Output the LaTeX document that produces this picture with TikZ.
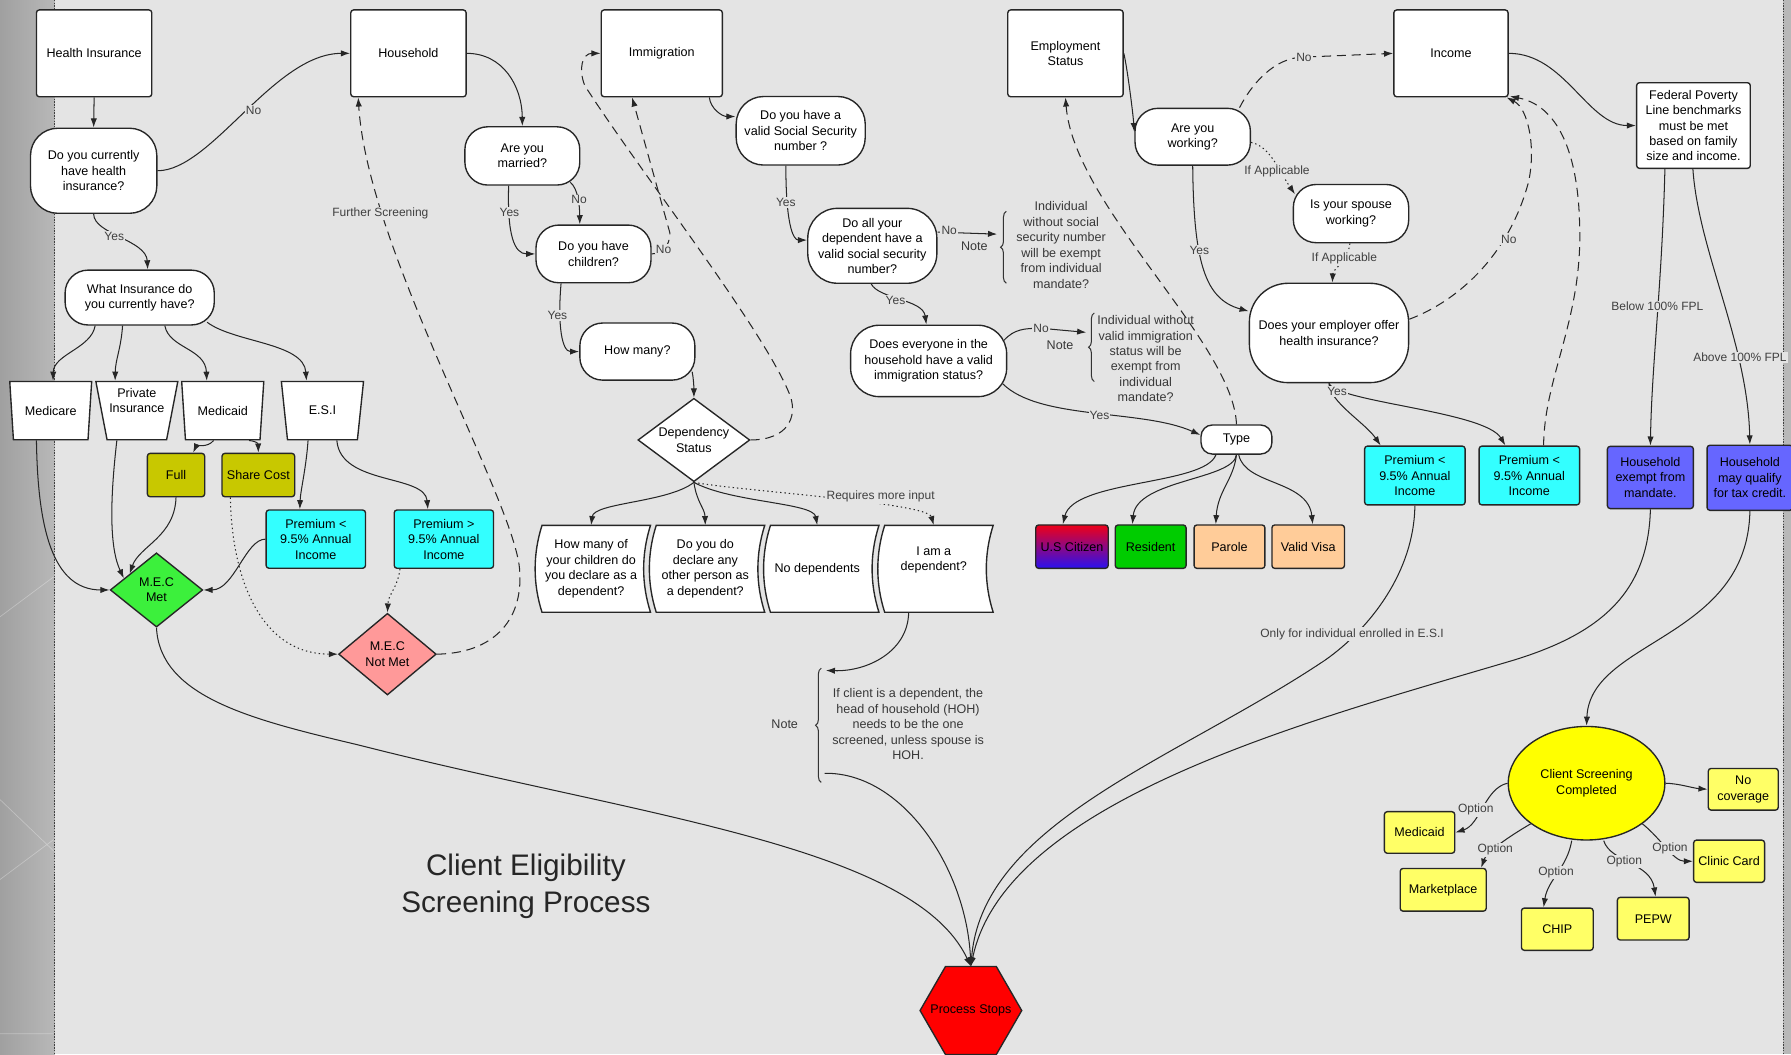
\documentclass[tikz,border=0pt]{standalone}
\usepackage{fontspec}
\setmainfont{Liberation Sans}
\usetikzlibrary{shapes.geometric,arrows.meta,decorations.pathreplacing}
\definecolor{bg}{HTML}{E4E4E4}
\definecolor{stripA}{HTML}{A0A0A0}
\definecolor{stripB}{HTML}{B8B8B8}
\definecolor{olive}{HTML}{C8C800}
\definecolor{cyanbox}{HTML}{33FFFF}
\definecolor{mecgreen}{HTML}{3CF03C}
\definecolor{mecpink}{HTML}{FF9999}
\definecolor{resgreen}{HTML}{00CC00}
\definecolor{peach}{HTML}{FFCC99}
\definecolor{purplebox}{HTML}{6666FF}
\definecolor{yelA}{HTML}{FFFF00}
\definecolor{yelB}{HTML}{FFFF66}
\definecolor{usTop}{HTML}{EE0018}
\definecolor{usBot}{HTML}{2A10F0}
\begin{document}
\begin{tikzpicture}[x=1pt,y=-1pt,
  every node/.style={font=\fontsize{11}{13.5}\selectfont, align=center, text=black},
  bx/.style={draw=black!85, line width=1.2pt, fill=white, inner sep=1pt},
  sq/.style={bx, rounded corners=2.5pt},
  pill/.style={bx, rounded corners=#1},
  wh/.style 2 args={minimum width=#1pt, minimum height=#2pt},
  trap/.style={bx, trapezium, trapezium left angle=103, trapezium right angle=103,
    trapezium stretches=true, minimum width=72pt, minimum height=51pt},
  dia/.style={bx, diamond, aspect=1.3, inner sep=0pt},
  arr/.style={line width=0.9pt, draw=black!85, -{Latex[length=8pt,width=5.5pt]}},
  dasharr/.style={arr, dash pattern=on 8pt off 5pt},
  dotarr/.style={arr, dash pattern=on 1.2pt off 2.6pt},
  lbl/.style={fill=bg, inner sep=1pt, text=black!75, font=\fontsize{10.5}{12}\selectfont},
  notetxt/.style={text=black!78},
  brc/.style={line width=0.9pt, draw=black!80, decorate, decoration={brace, amplitude=5pt}}
]
\useasboundingbox (0,0) rectangle (1568,923);
% background
\fill[bg] (0,0) rectangle (1568,923);
\shade[left color=stripA, right color=stripB] (0,0) rectangle (48,923);
\draw[white, opacity=0.3, line width=0.6pt] (0,540) -- (47,505) (0,700) -- (47,745) (0,770) -- (47,735) (0,905) -- (47,905);
\draw[black!75, line width=0.7pt, dash pattern=on 1.2pt off 1.2pt] (48,0) -- (48,923);
\fill[stripB] (1561,0) rectangle (1568,923);
\draw[black!75, line width=0.7pt, dash pattern=on 1.2pt off 1.2pt] (1561,0) -- (1561,923);

% ---------- top category boxes
\node[sq, wh={101}{76}] (HI) at (82.4,46.7) {Health Insurance};
\node[sq, wh={101}{76}] (HH) at (357.6,46.7) {Household};
\node[sq, wh={106}{76}] (IM) at (579.4,46.7) {Immigration};
\node[sq, wh={101}{76}] (ES) at (932.8,46.7) {Employment\\Status};
\node[sq, wh={100}{76}] (IN) at (1270.3,46.7) {Income};

% ---------- health insurance branch
\node[pill=24pt, wh={110.6}{74.5}] (Q1) at (82,149.5) {Do you currently\\have health\\insurance?};
\node[pill=20pt, wh={130.6}{48}] (Q2) at (122.3,260.5) {What Insurance do\\you currently have?};
\node[trap] (MC) at (44.4,359.5) {Medicare};
\node[trap] (PI) at (119.8,359.5) {Private\\Insurance\\\strut};
\node[trap] (MD) at (195,359.5) {Medicaid};
\node[trap] (ESI) at (282.3,359.5) {E.S.I};
\node[sq, fill=olive, wh={50.2}{38}] (Full) at (154.1,415.9) {Full};
\node[sq, fill=olive, wh={63.6}{38}] (SC) at (226.2,415.9) {Share Cost};
\node[sq, fill=cyanbox, wh={87}{51}] (P1) at (276.5,472) {Premium <\\9.5\% Annual\\Income};
\node[sq, fill=cyanbox, wh={87}{51}] (P2) at (388.6,472) {Premium >\\9.5\% Annual\\Income};
\node[dia, fill=mecgreen, wh={81}{65}] (MECM) at (137,516.5) {M.E.C\\Met};
\node[dia, fill=mecpink, wh={85.5}{71.5}] (MECN) at (339.2,572.7) {M.E.C\\Not Met};

% ---------- household branch
\node[pill=20pt, wh={100.6}{51}] (M) at (457.3,136.5) {Are you\\married?};
\node[pill=20pt, wh={100.7}{50.5}] (CH) at (519.6,222.3) {Do you have\\children?};
\node[pill=20pt, wh={100.7}{50}] (HM) at (558,307.8) {How many?};
\node[dia, wh={98}{73}] (DS) at (607.5,385.2) {Dependency\\Status};
\foreach \L in {474.5,574.5,674.5,774.5} {
  \draw[bx] (\L,460) -- (\L+95,460) .. controls (\L+87,485) and (\L+87,511) .. (\L+95,536)
    -- (\L,536) .. controls (\L-8,511) and (\L-8,485) .. cycle;
}
\node[wh={95}{76}] (T1) at (517.5,498) {How many of\\your children do\\you declare as a\\dependent?};
\node[wh={95}{76}] (T2) at (617.5,498) {Do you do\\declare any\\other person as\\a dependent?};
\node[wh={95}{76}] (T3) at (715.5,498) {No dependents};
\node[wh={95}{76}] (T4) at (817.5,498) {I am a\\dependent?\\\strut};

% ---------- immigration branch
\node[pill=24pt, wh={113}{60}] (SSN) at (701,114.5) {Do you have a\\valid Social Security\\number ?};
\node[pill=26pt, wh={113}{65.6}] (DAY) at (763.7,215.2) {Do all your\\dependent have a\\valid social security\\number?};
\node[pill=25pt, wh={136.6}{62.5}] (EV) at (813,316) {Does everyone in the\\household have a valid\\immigration status?};
\node[pill=10pt, wh={62}{25.5}] (TY) at (1082.5,384.8) {Type};
\node[sq, top color=usTop, bottom color=usBot, wh={63.4}{38}] (US) at (938.5,478.6) {U.S Citizen};
\node[sq, fill=resgreen, wh={62}{38}] (RE) at (1007.4,478.6) {Resident};
\node[sq, fill=peach, wh={62}{38}] (PA) at (1076.4,478.6) {Parole};
\node[sq, fill=peach, wh={63.5}{38}] (VV) at (1145.3,478.6) {Valid Visa};

% ---------- employment / income branch
\node[pill=20pt, wh={101}{49.7}] (AW) at (1044.2,119.7) {Are you\\working?};
\node[pill=20pt, wh={101}{51}] (SP) at (1182.8,187) {Is your spouse\\working?};
\node[pill=34pt, wh={139.4}{87}] (EO) at (1163.5,291.5) {Does your employer offer\\health insurance?};
\node[sq, fill=cyanbox, wh={88}{51.5}] (P3) at (1238.7,416.3) {Premium <\\9.5\% Annual\\Income};
\node[sq, fill=cyanbox, wh={88}{51.5}] (P4) at (1338.9,416.3) {Premium <\\9.5\% Annual\\Income};
\node[sq, wh={99.5}{75}] (FPL) at (1482.6,109.9) {Federal Poverty\\Line benchmarks\\must be met\\based on family\\size and income.};
\node[sq, fill=purplebox, wh={75.3}{54.5}] (HE) at (1444.9,418) {Household\\exempt from\\mandate.};
\node[sq, fill=purplebox, wh={75}{57}] (HT) at (1532,418.3) {Household\\may qualify\\for tax credit.};

% ---------- outcomes
\node[bx, ellipse, fill=yelA, wh={137.2}{99.4}] (CS) at (1389,685.7) {Client Screening\\Completed};
\node[sq, fill=yelB, wh={61.3}{36.5}] (NC) at (1526.2,691) {No\\coverage};
\node[sq, fill=yelB, wh={61.6}{36.4}] (MDc) at (1242.8,728.8) {Medicaid};
\node[sq, fill=yelB, wh={75.3}{37.4}] (MK) at (1263.5,779) {Marketplace};
\node[sq, fill=yelB, wh={62.8}{37}] (CHIP) at (1363.4,813.5) {CHIP};
\node[sq, fill=yelB, wh={62.8}{37.4}] (PEPW) at (1447.4,804.3) {PEPW};
\node[sq, fill=yelB, wh={62.1}{37}] (CC) at (1513.8,754) {Clinic Card};
\node[bx, regular polygon, regular polygon sides=6, minimum size=89pt, inner sep=0pt, outer sep=0pt, fill=red] (PS) at (850,884.7) {\makebox[0pt]{Process Stops}};

% ---------- notes
\draw[brc] (881,248) -- (881,185);
\draw[brc] (958,334) -- (958,274);
\draw[brc] (719,685) -- (719,585);
\coordinate (b1) at (873,205);
\coordinate (b2) at (951,291);
\coordinate (b3) at (723,587);
\coordinate (b3o) at (722,677);
\node[notetxt] (NT1) at (929,214.5) {Individual\\without social\\security number\\will be exempt\\from individual\\mandate?};
\node[notetxt] (NT2) at (1003,314) {Individual without\\valid immigration\\status will be\\exempt from\\individual\\mandate?};
\node[notetxt] (NT3) at (795,634) {If client is a dependent, the\\head of household (HOH)\\needs to be the one\\screened, unless spouse is\\HOH.};
\node[notetxt] (N1) at (853,216) {Note};
\node[notetxt] (N2) at (928,302) {Note};
\node[notetxt] (N3) at (687,634) {Note};

\node[font=\fontsize{26}{32.4}\selectfont, text=black!85] (title) at (460.4,776) {Client Eligibility\\Screening Process};

% ---------- connectors: health insurance
\draw[arr] (HI.south) -- (Q1.north);
\draw[arr] (Q1.east) .. controls (185,149.5) and (240,46.7) .. (HH.west);
\draw[arr] (Q1.south) .. controls (82,205) and (128,210) .. ([xshift=7pt]Q2.north);
\draw[arr] ([xshift=-39pt]Q2.south) .. controls (80,305) and (47,310) .. ([xshift=2pt]MC.north);
\draw[arr] ([xshift=-15pt]Q2.south) .. controls (106,305) and (101,315) .. ([xshift=-19pt]PI.north);
\draw[arr] ([xshift=22pt]Q2.south) .. controls (148,305) and (180,305) .. ([xshift=-14pt]MD.north);
\draw[arr] ([xshift=59pt,yshift=3pt]Q2.south) .. controls (205,300) and (266,300) .. ([xshift=-14pt]ESI.north);
\draw[arr] ([xshift=-12.5pt]MC.south) .. controls (33,460) and (45,516.5) .. (MECM.west);
\draw[arr] ([xshift=-17.5pt]PI.south) .. controls (96,440) and (96,480) .. ([xshift=-8pt,yshift=-6.4pt]MECM.north west);
\draw[arr] (Full.south) .. controls (153,470) and (122,478) .. ([xshift=-3pt,yshift=-2.4pt]MECM.north west);
\draw[arr] ([xshift=-8pt]MD.south) .. controls (182,392) and (172,390) .. ([xshift=15pt]Full.north);
\draw[arr] ([xshift=23pt]MD.south) .. controls (223,386) and (226,388) .. (SC.north);
\draw[dotarr] ([xshift=-24.5pt]SC.south) .. controls (203,510) and (230,572.7) .. (MECN.west);
\draw[arr] ([xshift=-12.6pt]ESI.south) .. controls (268,410) and (263,430) .. ([xshift=-14pt]P1.north);
\draw[arr] ([xshift=12.6pt]ESI.south) .. controls (298,425) and (372,415) .. ([xshift=-14pt]P2.north);
\draw[arr] (P1.west) .. controls (215,472) and (205,516.5) .. (MECM.east);
\draw[dotarr] ([xshift=-38.4pt]P2.south) .. controls (348,515) and (340,520) .. (MECN.north);
\draw[dasharr] (MECN.east) .. controls (430,572) and (458,545) .. (455,500) .. controls (452,440) and (322,220) .. ([xshift=-44pt]HH.south);
\draw[arr] (MECM.south) .. controls (140,610) and (220,630) .. (313,652) .. controls (560,715) and (800,740) .. (PS.north);

% ---------- connectors: household
\draw[arr] (HH.east) .. controls (440,46.7) and (457,75) .. (M.north);
\draw[arr] ([xshift=-12pt]M.south) .. controls (444,205) and (450,222.3) .. (CH.west);
\draw[arr] ([xshift=42pt,yshift=3pt]M.south) .. controls (506,165) and (507.5,180) .. ([xshift=-12pt]CH.north);
\draw[arr] ([xshift=-28.4pt]CH.south) .. controls (488,285) and (492,307.8) .. (HM.west);
\draw[dasharr] (CH.east) .. controls (579,222) and (586.5,216) .. (586.5,204) -- ([xshift=-26pt]IM.south);
\draw[arr] ([xshift=-3pt,yshift=8pt]HM.south east) .. controls (607,330) and (607.5,338) .. (DS.north);
\draw[dasharr] (DS.east) .. controls (690,385) and (698,365) .. (692,347) .. controls (670,290) and (560,150) .. (512,75) .. controls (506,60) and (510,46.7) .. (IM.west);
\draw[arr] (DS.south) .. controls (585,440) and (520,440) .. (T1.north);
\draw[arr] (DS.south) .. controls (610,440) and (617,445) .. (T2.north);
\draw[arr] (DS.south) .. controls (640,440) and (712,440) .. (T3.north);
\draw[dotarr] (DS.south) .. controls (650,430) and (812,440) .. (T4.north);
\draw[arr] ([xshift=-22pt]T4.south) .. controls (795,570) and (760,588) .. (b3);
\draw[arr] (b3o) .. controls (790,676) and (846,760) .. (PS.north);

% ---------- connectors: immigration
\draw[arr] ([xshift=-12pt]IM.south east) .. controls (622,95) and (632,102) .. ([yshift=12.5pt]SSN.west);
\draw[arr] ([xshift=-13pt]SSN.south) .. controls (688,195) and (694,210.2) .. ([yshift=5pt]DAY.west);
\draw[arr] ([xshift=-1pt]DAY.south) .. controls (770,262) and (808,262) .. ([xshift=-2pt]EV.north);
\draw[arr] ([yshift=12pt]DAY.east) -- (b1);
\draw[arr] ([xshift=-3pt,yshift=18pt]EV.east) .. controls (888,288) and (897,287.4) .. (911.5,287.4) -- (b2);
\draw[arr] ([xshift=-4pt,yshift=-20pt]EV.east) .. controls (910,368) and (1000,358) .. ([yshift=4pt]TY.west);
\draw[dasharr] (TY.north) .. controls (1080,300) and (940,180) .. (ES.south);
\draw[arr] ([xshift=-18pt]TY.south) .. controls (1055,425) and (940,420) .. ([xshift=-8pt]US.north);
\draw[arr] (TY.south) .. controls (1080,420) and (995,420) .. ([xshift=-16pt]RE.north);
\draw[arr] (TY.south) .. controls (1080,420) and (1066,430) .. ([xshift=-12pt]PA.north);
\draw[arr] ([xshift=2pt]TY.south) .. controls (1090,425) and (1145,420) .. ([xshift=4pt]VV.north);

% ---------- connectors: employment / income
\draw[arr] (ES.east) .. controls (987,60) and (992,100) .. ([yshift=4pt]AW.west);
\draw[dasharr] ([xshift=41pt]AW.north) .. controls (1095,75) and (1115,50) .. (1141.6,50) -- (IN.west);
\draw[dotarr] ([yshift=-5pt]AW.east) .. controls (1112,128) and (1120,150) .. ([xshift=2pt,yshift=17pt]SP.west);
\draw[dotarr] ([xshift=-1pt]SP.south) .. controls (1180,230) and (1167,235) .. ([xshift=3pt]EO.north);
\draw[arr] (AW.south) .. controls (1045,230) and (1055,262) .. ([yshift=19pt]EO.west);
\draw[dasharr] ([yshift=12pt]EO.east) .. controls (1280,262) and (1322,220) .. (1338,160) .. controls (1345,130) and (1338,95) .. ([xshift=-2pt]IN.south east);
\draw[dasharr] ([xshift=12.5pt]P4.north) .. controls (1352,330) and (1385,280) .. (1383,200) .. controls (1382,130) and (1362,92) .. ([xshift=1pt,yshift=1pt]IN.south east);
\draw[arr] (EO.south) .. controls (1164,352) and (1195,370) .. ([xshift=-30pt]P3.north);
\draw[arr] (EO.south) .. controls (1170,352) and (1300,360) .. ([xshift=-21pt]P4.north);
\draw[arr] (IN.east) .. controls (1370,46.7) and (1390,109.9) .. (FPL.west);
\draw[arr] ([xshift=-25pt]FPL.south) .. controls (1455,250) and (1446,320) .. (HE.north);
\draw[arr] ([xshift=-0.5pt]FPL.south) .. controls (1487,220) and (1530,300) .. (HT.north);
\draw[arr] (P3.south) .. controls (1238,500) and (1200,550) .. (1160,578) .. controls (1030,665) and (860,720) .. (PS.north);
\draw[arr] (HE.south) .. controls (1443,520) and (1400,555) .. (1325,578) .. controls (1150,630) and (880,700) .. (PS.north);
\draw[arr] (HT.south) .. controls (1530,560) and (1392,560) .. (CS.north);

% ---------- outcome options
\draw[arr] (CS.west) .. controls (1300,690) and (1296,722) .. (MDc.east);
\draw[arr] (CS.south west) .. controls (1325,730) and (1302,745) .. ([xshift=-5pt]MK.north east);
\draw[arr] ([xshift=-13pt]CS.south) .. controls (1372,760) and (1355,770) .. ([xshift=-12pt]CHIP.north);
\draw[arr] ([xshift=15pt]CS.south) .. controls (1410,755) and (1445,755) .. ([xshift=2pt]PEPW.north);
\draw[arr] (CS.south east) .. controls (1455,735) and (1465,754) .. (CC.west);
\draw[arr] (CS.east) .. controls (1470,686) and (1482,690) .. (NC.west);

% ---------- connector labels
\node[lbl] (lA) at (222,97) {No};
\node[lbl] (lB) at (100,207) {Yes};
\node[lbl] (lC) at (333,187) {Further Screening};
\node[lbl] (lD) at (446,186) {Yes};
\node[lbl] (lE) at (507,175) {No};
\node[lbl] (lF) at (488,276) {Yes};
\node[lbl] (lG) at (581,218) {No};
\node[lbl] (lH) at (688,177.5) {Yes};
\node[lbl] (lI) at (831,201.4) {No};
\node[lbl] (lJ) at (784,262.7) {Yes};
\node[lbl] (lK) at (911.5,287.4) {No};
\node[lbl] (lL) at (962.6,364) {Yes};
\node[lbl] (lM) at (771,435) {Requires more input};
\node[lbl] (lN) at (1141.6,50) {No};
\node[lbl] (lO) at (1118,150) {If Applicable};
\node[lbl] (lP) at (1177,226) {If Applicable};
\node[lbl] (lQ) at (1050,219) {Yes};
\node[lbl] (lR) at (1321,210) {No};
\node[lbl] (lS) at (1170.6,343) {Yes};
\node[lbl] (lT) at (1451,268.5) {Below 100\% FPL};
\node[lbl] (lU) at (1523.3,312.8) {Above 100\% FPL};
\node[lbl] (lV) at (1183.7,555) {Only for individual enrolled in E.S.I};
\node[lbl] (o1) at (1292,709) {Option};
\node[lbl] (o2) at (1309,744) {Option};
\node[lbl] (o3) at (1362.3,764) {Option};
\node[lbl] (o4) at (1422,754.4) {Option};
\node[lbl] (o5) at (1462,742.7) {Option};
\end{tikzpicture}
\end{document}
